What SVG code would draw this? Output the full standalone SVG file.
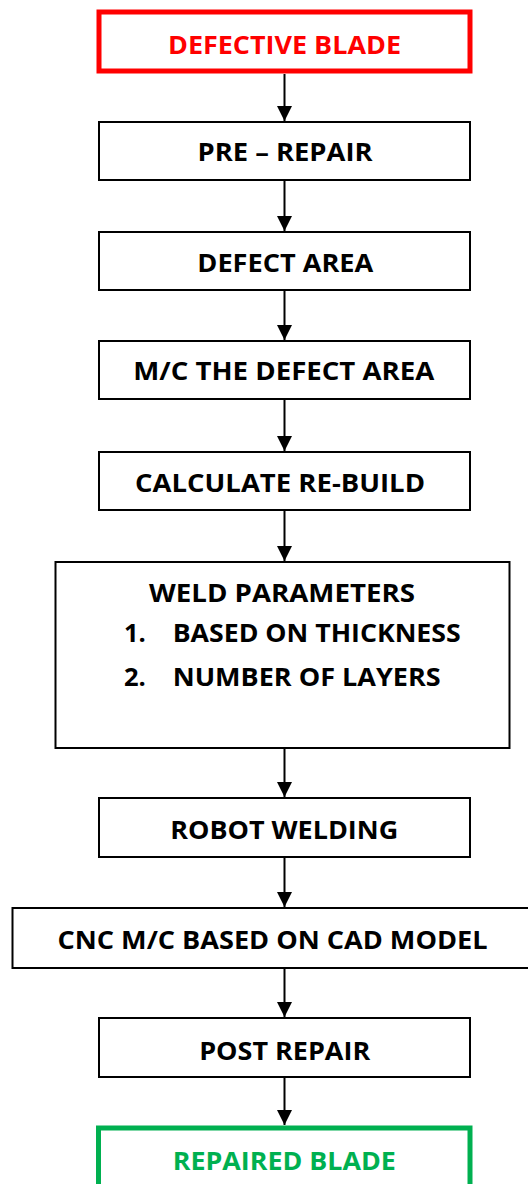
<svg xmlns="http://www.w3.org/2000/svg" width="528" height="1184" viewBox="0 0 528 1184">
<style>
.box{fill:#fff;stroke:#000;stroke-width:2}
.t{font-family:"Open Sans","Liberation Sans",sans-serif;font-weight:bold;font-size:25.5px;fill:#000}
.c{text-anchor:middle}
.conn{stroke:#000;stroke-width:2;fill:none}
</style>
<defs>
<marker id="ah" viewBox="0 0 15 15" refX="15" refY="7.5" markerWidth="15" markerHeight="15" markerUnits="userSpaceOnUse" orient="auto">
<path d="M0,0 L15,7.5 L0,15 z" fill="#000"/>
</marker>
</defs>
<rect width="528" height="1184" fill="#fff"/>
<g id="connectors">
<line class="conn" x1="284.5" y1="74" x2="284.5" y2="121" marker-end="url(#ah)"/>
<line class="conn" x1="284.5" y1="181" x2="284.5" y2="231" marker-end="url(#ah)"/>
<line class="conn" x1="284.5" y1="291" x2="284.5" y2="340" marker-end="url(#ah)"/>
<line class="conn" x1="284.5" y1="400" x2="284.5" y2="451" marker-end="url(#ah)"/>
<line class="conn" x1="284.5" y1="511" x2="284.5" y2="561" marker-end="url(#ah)"/>
<line class="conn" x1="284.5" y1="749" x2="284.5" y2="797" marker-end="url(#ah)"/>
<line class="conn" x1="284.5" y1="858" x2="284.5" y2="907" marker-end="url(#ah)"/>
<line class="conn" x1="284.5" y1="969" x2="284.5" y2="1017" marker-end="url(#ah)"/>
<line class="conn" x1="284.5" y1="1078" x2="284.5" y2="1125" marker-end="url(#ah)"/>
</g>
<g id="defective-blade">
<rect x="99" y="12" width="371" height="59" fill="#fff" stroke="#FF0000" stroke-width="5"/>
<text class="t c" x="284.5" y="54" style="fill:#FF0000" textLength="233" lengthAdjust="spacingAndGlyphs">DEFECTIVE BLADE</text>
</g>
<g id="pre-repair">
<rect class="box" x="99" y="122" width="371" height="58"/>
<text class="t c" x="285" y="161" textLength="175" lengthAdjust="spacingAndGlyphs">PRE – REPAIR</text>
</g>
<g id="defect-area">
<rect class="box" x="99" y="232" width="371" height="58"/>
<text class="t c" x="285.3" y="271.5" textLength="176" lengthAdjust="spacingAndGlyphs">DEFECT AREA</text>
</g>
<g id="mc-defect-area">
<rect class="box" x="99" y="341" width="371" height="58"/>
<text class="t c" x="283.8" y="380" textLength="301" lengthAdjust="spacingAndGlyphs">M/C THE DEFECT AREA</text>
</g>
<g id="calculate-rebuild">
<rect class="box" x="99" y="452" width="371" height="58"/>
<text class="t c" x="280" y="491.5" textLength="290" lengthAdjust="spacingAndGlyphs">CALCULATE RE-BUILD</text>
</g>
<g id="weld-parameters">
<rect class="box" x="55.5" y="562" width="454" height="186"/>
<text class="t c" x="282" y="601.5" textLength="266" lengthAdjust="spacingAndGlyphs">WELD PARAMETERS</text>
<text class="t" x="124" y="641.5">1.</text>
<text class="t" x="172.7" y="641.5" textLength="288" lengthAdjust="spacingAndGlyphs">BASED ON THICKNESS</text>
<text class="t" x="124" y="685.5">2.</text>
<text class="t" x="172.7" y="685.5" textLength="268" lengthAdjust="spacingAndGlyphs">NUMBER OF LAYERS</text>
</g>
<g id="robot-welding">
<rect class="box" x="99" y="798" width="371" height="59"/>
<text class="t c" x="284.2" y="839" textLength="228" lengthAdjust="spacingAndGlyphs">ROBOT WELDING</text>
</g>
<g id="cnc-mc">
<rect class="box" x="12.5" y="908" width="530" height="60"/>
<text class="t c" x="272.5" y="949" textLength="430" lengthAdjust="spacingAndGlyphs">CNC M/C BASED ON CAD MODEL</text>
</g>
<g id="post-repair">
<rect class="box" x="99" y="1018" width="371" height="59"/>
<text class="t c" x="284.7" y="1059.5" textLength="171" lengthAdjust="spacingAndGlyphs">POST REPAIR</text>
</g>
<g id="repaired-blade">
<rect x="98.5" y="1128" width="371.5" height="70" fill="#fff" stroke="#00B050" stroke-width="5"/>
<text class="t c" x="284.3" y="1170" style="fill:#00B050" textLength="223" lengthAdjust="spacingAndGlyphs">REPAIRED BLADE</text>
</g>
</svg>
